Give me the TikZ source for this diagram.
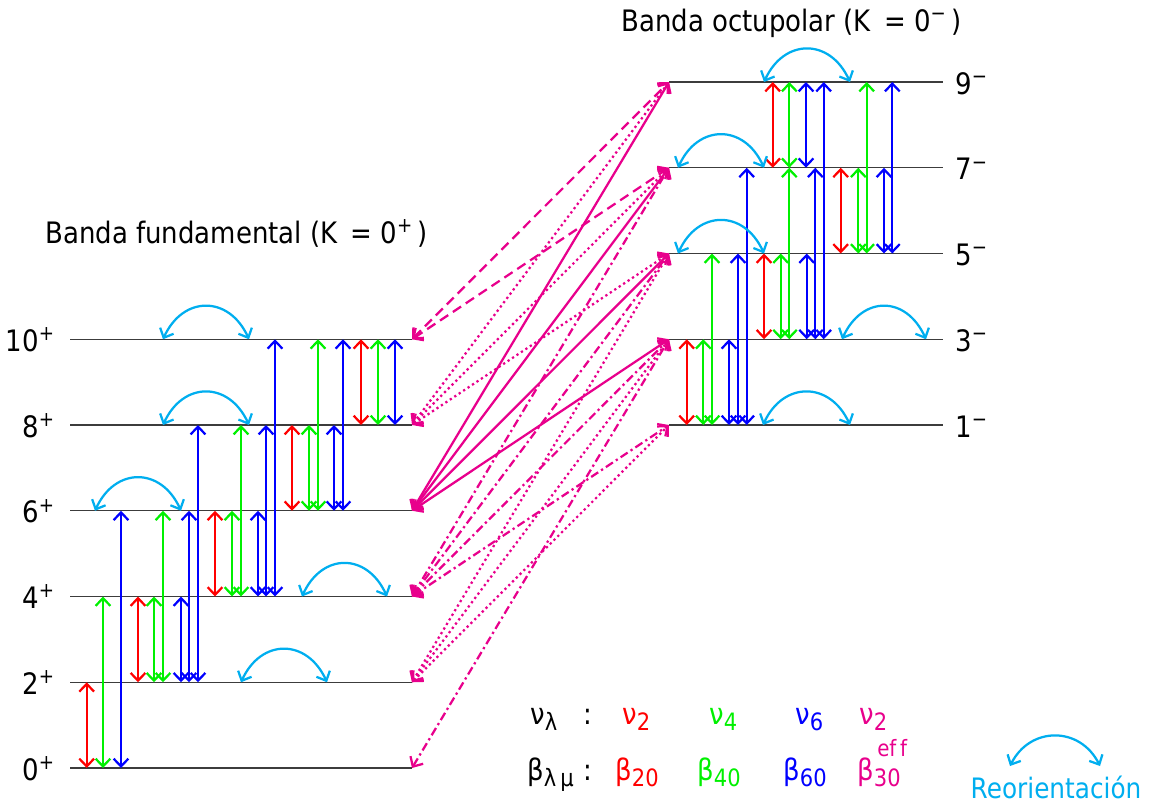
\documentclass[tikz,border=0pt]{standalone}
\usepackage{fontspec}
\setmainfont{DejaVu Sans}[FakeStretch=0.88]
\usetikzlibrary{arrows.meta}
\definecolor{etwo}{RGB}{255,0,0}
\definecolor{efour}{RGB}{0,240,0}
\definecolor{esix}{RGB}{0,0,255}
\definecolor{ethree}{RGB}{232,0,140}
\definecolor{reorient}{RGB}{0,174,239}
\definecolor{levelgray}{RGB}{60,60,60}
\newcommand{\lsub}[1]{\raisebox{-0.22em}{\fontsize{17}{20}\selectfont #1}}

\begin{document}
\begin{tikzpicture}[x=0.025cm, y=-0.025cm,
        >={Straight Barb[length=5.5pt,width=10.5pt]},
        level/.style={draw=levelgray, line width=0.9pt},
        lab/.style={font=\fontsize{21}{25}\selectfont, inner sep=0pt},
        small/.style={font=\fontsize{16}{19}\selectfont, inner sep=0pt},
        trans/.style={<->, line width=1.6pt},
        reo/.style={<->, reorient, line width=1.6pt},
        octline/.style={<->, ethree, line width=1.6pt},
        octdash/.style={octline, dash pattern=on 7pt off 4pt},
        octdot/.style={octline, dash pattern=on 1.6pt off 2.2pt},
        octdashdot/.style={octline, dash pattern=on 6pt off 2.5pt on 1.6pt off 2.5pt}
    ]
        \useasboundingbox (0,0) rectangle (1154,805);

        % ground band levels
        \coordinate (g0) at (70,768);     \coordinate (g0e) at (412,768);
        \coordinate (g2) at (70,682.25);  \coordinate (g2e) at (412,682.25);
        \coordinate (g4) at (70,596.5);   \coordinate (g4e) at (412,596.5);
        \coordinate (g6) at (70,510.75);  \coordinate (g6e) at (412,510.75);
        \coordinate (g8) at (70,425);     \coordinate (g8e) at (412,425);
        \coordinate (g10) at (70,339.25); \coordinate (g10e) at (412,339.25);
        \draw[level] (g0) -- (g0e); \draw[level] (g2) -- (g2e); \draw[level] (g4) -- (g4e);
        \draw[level] (g6) -- (g6e); \draw[level] (g8) -- (g8e); \draw[level] (g10) -- (g10e);

        % octupole band levels
        \coordinate (o1) at (669,425);    \coordinate (o1e) at (943,425);
        \coordinate (o3) at (669,339.25); \coordinate (o3e) at (943,339.25);
        \coordinate (o5) at (669,253.5);  \coordinate (o5e) at (943,253.5);
        \coordinate (o7) at (669,167.75); \coordinate (o7e) at (943,167.75);
        \coordinate (o9) at (669,82);     \coordinate (o9e) at (943,82);
        \draw[level] (o1) -- (o1e); \draw[level] (o3) -- (o3e); \draw[level] (o5) -- (o5e);
        \draw[level] (o7) -- (o7e); \draw[level] (o9) -- (o9e);

        \node[lab, anchor=base east] (lg0) at (55,780) {0\textsuperscript{+}};
        \node[lab, anchor=base east] (lg2) at (55,694.25) {2\textsuperscript{+}};
        \node[lab, anchor=base east] (lg4) at (55,608.5) {4\textsuperscript{+}};
        \node[lab, anchor=base east] (lg6) at (55,522.75) {6\textsuperscript{+}};
        \node[lab, anchor=base east] (lg8) at (55,437) {8\textsuperscript{+}};
        \node[lab, anchor=base east] (lg10) at (55,351.25) {10\textsuperscript{+}};
        \node[lab, anchor=base west] (lo1) at (955,437) {1\textsuperscript{−}};
        \node[lab, anchor=base west] (lo3) at (955,351.25) {3\textsuperscript{−}};
        \node[lab, anchor=base west] (lo5) at (955,265.5) {5\textsuperscript{−}};
        \node[lab, anchor=base west] (lo7) at (955,179.75) {7\textsuperscript{−}};
        \node[lab, anchor=base west] (lo9) at (955,94) {9\textsuperscript{−}};

        \node[lab, anchor=base west] (tfund) at (45,243) {Banda fundamental (K\hspace{0.45em}= 0\textsuperscript{+}\,)};
        \node[lab, anchor=base west] (toct) at (621,31) {Banda octupolar (K\hspace{0.45em}= 0\textsuperscript{−}\,)};

        % E2, E4, E6 couplings in the ground band
        \draw[trans, etwo] (86.7,0 |- g0) -- (86.7,0 |- g2);   \draw[trans, etwo] (138,0 |- g2) -- (138,0 |- g4);
        \draw[trans, etwo] (215,0 |- g4) -- (215,0 |- g6);     \draw[trans, etwo] (292,0 |- g6) -- (292,0 |- g8);
        \draw[trans, etwo] (361,0 |- g8) -- (361,0 |- g10);
        \draw[trans, efour] (103,0 |- g0) -- (103,0 |- g4);    \draw[trans, efour] (154,0 |- g2) -- (154,0 |- g4);
        \draw[trans, efour] (163,0 |- g2) -- (163,0 |- g6);    \draw[trans, efour] (232,0 |- g4) -- (232,0 |- g6);
        \draw[trans, efour] (241,0 |- g4) -- (241,0 |- g8);    \draw[trans, efour] (309,0 |- g6) -- (309,0 |- g8);
        \draw[trans, efour] (318,0 |- g6) -- (318,0 |- g10);   \draw[trans, efour] (378,0 |- g8) -- (378,0 |- g10);
        \draw[trans, esix] (121,0 |- g0) -- (121,0 |- g6);     \draw[trans, esix] (181,0 |- g2) -- (181,0 |- g4);
        \draw[trans, esix] (189,0 |- g2) -- (189,0 |- g6);     \draw[trans, esix] (198,0 |- g2) -- (198,0 |- g8);
        \draw[trans, esix] (258,0 |- g4) -- (258,0 |- g6);     \draw[trans, esix] (266,0 |- g4) -- (266,0 |- g8);
        \draw[trans, esix] (275,0 |- g4) -- (275,0 |- g10);    \draw[trans, esix] (334,0 |- g6) -- (334,0 |- g8);
        \draw[trans, esix] (343,0 |- g6) -- (343,0 |- g10);    \draw[trans, esix] (395,0 |- g8) -- (395,0 |- g10);

        % E2, E4, E6 couplings in the octupole band
        \draw[trans, etwo] (686.7,0 |- o1) -- (686.7,0 |- o3); \draw[trans, etwo] (764,0 |- o3) -- (764,0 |- o5);
        \draw[trans, etwo] (840.7,0 |- o5) -- (840.7,0 |- o7); \draw[trans, etwo] (772.7,0 |- o7) -- (772.7,0 |- o9);
        \draw[trans, efour] (703.3,0 |- o1) -- (703.3,0 |- o3); \draw[trans, efour] (712,0 |- o1) -- (712,0 |- o5);
        \draw[trans, efour] (780.7,0 |- o3) -- (780.7,0 |- o5); \draw[trans, efour] (789.3,0 |- o3) -- (789.3,0 |- o7);
        \draw[trans, efour] (858.3,0 |- o5) -- (858.3,0 |- o7); \draw[trans, efour] (866.7,0 |- o5) -- (866.7,0 |- o9);
        \draw[trans, efour] (789.3,0 |- o7) -- (789.3,0 |- o9);
        \draw[trans, esix] (729,0 |- o1) -- (729,0 |- o3);     \draw[trans, esix] (738,0 |- o1) -- (738,0 |- o5);
        \draw[trans, esix] (746.7,0 |- o1) -- (746.7,0 |- o7); \draw[trans, esix] (806.7,0 |- o3) -- (806.7,0 |- o5);
        \draw[trans, esix] (815.3,0 |- o3) -- (815.3,0 |- o7); \draw[trans, esix] (823.7,0 |- o3) -- (823.7,0 |- o9);
        \draw[trans, esix] (884,0 |- o5) -- (884,0 |- o7);     \draw[trans, esix] (892.3,0 |- o5) -- (892.3,0 |- o9);
        \draw[trans, esix] (806,0 |- o7) -- (806,0 |- o9);

        % reorientation
        \draw[reo] (163,0 |- g10) .. controls +(20,-44) and +(-20,-44) .. (249,0 |- g10);
        \draw[reo] (163,0 |- g8) .. controls +(20,-44) and +(-20,-44) .. (249,0 |- g8);
        \draw[reo] (95,0 |- g6) .. controls +(20,-44) and +(-20,-44) .. (181,0 |- g6);
        \draw[reo] (302,0 |- g4) .. controls +(20,-44) and +(-20,-44) .. (387,0 |- g4);
        \draw[reo] (241,0 |- g2) .. controls +(20,-44) and +(-20,-44) .. (327,0 |- g2);
        \draw[reo] (763,0 |- o1) .. controls +(20,-44) and +(-20,-44) .. (850,0 |- o1);
        \draw[reo] (842,0 |- o3) .. controls +(20,-44) and +(-20,-44) .. (926,0 |- o3);
        \draw[reo] (678,0 |- o5) .. controls +(20,-44) and +(-20,-44) .. (764,0 |- o5);
        \draw[reo] (678,0 |- o7) .. controls +(20,-44) and +(-20,-44) .. (764,0 |- o7);
        \draw[reo] (764,0 |- o9) .. controls +(20,-44) and +(-20,-44) .. (850,0 |- o9);

        % E3 couplings between the bands
        \draw[octdash] (g10e) -- (o9); \draw[octdash] (g10e) -- (o7);
        \draw[octdot] (g8e) -- (o9); \draw[octdot] (g8e) -- (o7); \draw[octdot] (g8e) -- (o5);
        \draw[octline] (g6e) -- (o9); \draw[octline] (g6e) -- (o7);
        \draw[octline] (g6e) -- (o5); \draw[octline] (g6e) -- (o3);
        \draw[octdashdot] (g4e) -- (o7); \draw[octdashdot] (g4e) -- (o5);
        \draw[octdashdot] (g4e) -- (o3); \draw[octdashdot] (g4e) -- (o1);
        \draw[octdot] (g2e) -- (o5); \draw[octdot] (g2e) -- (o3); \draw[octdot] (g2e) -- (o1);
        \draw[octdashdot] (g0e) -- (o3);

        % legend
        \node[lab, anchor=base west] (nul) at (530,724) {ν\lsub{λ}};
        \node[lab, anchor=base west] (nuc) at (583,724) {:};
        \node[lab, anchor=base west, text=etwo] (nu2) at (622,724) {ν\lsub{2}};
        \node[lab, anchor=base west, text=efour] (nu4) at (709,724) {ν\lsub{4}};
        \node[lab, anchor=base west, text=esix] (nu6) at (795,724) {ν\lsub{6}};
        \node[lab, anchor=base west, text=ethree] (nu3) at (859,724) {ν\lsub{2}};
        \node[lab, anchor=base west] (bel) at (527,780) {β\lsub{λ\,μ}};
        \node[lab, anchor=base west] (bec) at (583,780) {:};
        \node[lab, anchor=base west, text=etwo] (be2) at (615,780) {β\lsub{20}};
        \node[lab, anchor=base west, text=efour] (be4) at (697,780) {β\lsub{40}};
        \node[lab, anchor=base west, text=esix] (be6) at (783,780) {β\lsub{60}};
        \node[lab, anchor=base west, text=ethree] (be3) at (857,780) {β\lsub{30}};
        \node[small, anchor=base west, text=ethree] (be3e) at (877,756) {ef\,f};

        \coordinate (ra) at (1010,766); \coordinate (rb) at (1100,766);
        \draw[reo] (ra) .. controls +(20,-40) and +(-20,-40) .. (rb);
        \node[lab, anchor=base, text=reorient, font=\fontsize{20}{24}\selectfont] (reor) at (1056,798) {Reorientación};
    \end{tikzpicture}
\end{document}
